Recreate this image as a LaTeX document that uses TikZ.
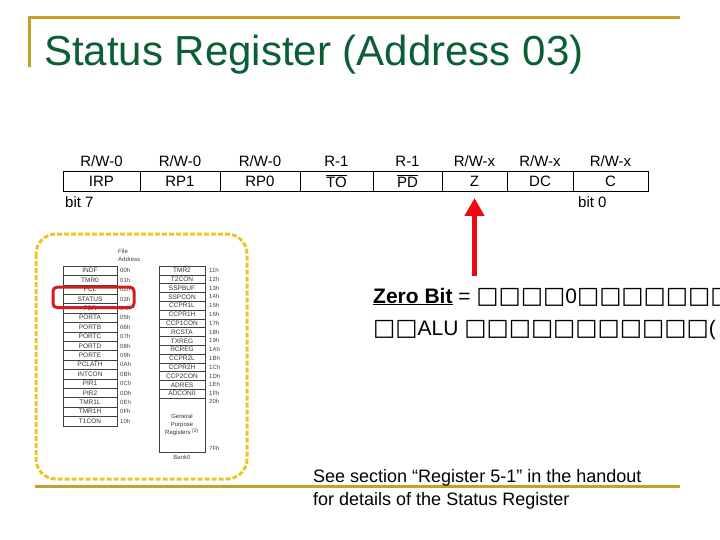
\documentclass[tikz,border=0pt]{standalone}
\usepackage{fontspec}
\setmainfont{Liberation Sans}
\newfontfamily\tofufont[Scale=1.12]{DejaVu Sans}
\usetikzlibrary{positioning,arrows.meta}

\definecolor{titlegreen}{RGB}{12,94,52}
\definecolor{rulegold}{RGB}{196,160,44}
\definecolor{framegold}{RGB}{236,196,40}
\definecolor{markred}{RGB}{210,30,30}
\definecolor{arrowred}{RGB}{238,10,20}

\begin{document}
\begin{tikzpicture}[
  x=1pt, y=-1pt,
  >=Latex,
  every node/.style={font=\fontsize{15}{18}\selectfont},
  regcell/.style={draw, line width=0.6pt, minimum height=20pt, inner sep=0pt, outer sep=0pt},
  rwlabel/.style={inner sep=0pt, text depth=0pt},
  zarrow/.style={-{Triangle[length=18pt,width=19pt]}, line width=5pt, arrowred},
  zerotext/.style={inner sep=0pt, font=\fontsize{21}{26}\selectfont},
  notetext/.style={inner sep=0pt, font=\fontsize{18}{22}\selectfont},
  titletext/.style={inner sep=0pt, text=titlegreen, font=\fontsize{42}{48}\selectfont},
  goldrule/.style={line width=3pt, rulegold},
  panelframe/.style={line width=3pt, framegold, dash pattern=on 5pt off 2pt, rounded corners=20pt},
  maprow/.style={draw=black!75, line width=0.5pt, inner sep=0pt, outer sep=0pt, text=black!80,
    font=\fontsize{6.5}{8}\selectfont},
  mapaddr/.style={inner sep=0pt, text=black!75, font=\fontsize{6}{8}\selectfont},
  statusmark/.style={line width=3pt, markred, rounded corners=4pt}
]
\useasboundingbox (0,0) rectangle (720,540);

% Title and rules
\draw[goldrule] (29,67) -- (29,18) -- (680,18);
\node[titletext, anchor=base west] (title) at (44,66) {Status Register (Address 03)};
\draw[goldrule] (35,486) -- (680,486);

% Register bits (bit 7 to bit 0)
\node[regcell, minimum width=77pt] (irp) at (101.5,181) {IRP};
\node[regcell, minimum width=80pt, right=0pt of irp] (rpone) {RP1};
\node[regcell, minimum width=80pt, right=0pt of rpone] (rpzero) {RP0};
\node[regcell, minimum width=73pt, right=0pt of rpzero] (tobit) {$\overline{\mbox{TO}}$};
\node[regcell, minimum width=69pt, right=0pt of tobit] (pdbit) {$\overline{\mbox{PD}}$};
\node[regcell, minimum width=65pt, right=0pt of pdbit] (zbit) {Z};
\node[regcell, minimum width=66pt, right=0pt of zbit] (dcbit) {DC};
\node[regcell, minimum width=75pt, right=0pt of dcbit] (cbit) {C};

% Access labels above
\node[rwlabel, above=4pt of irp] (irpacc) {R/W-0};
\node[rwlabel, above=4pt of rpone] (rponeacc) {R/W-0};
\node[rwlabel, above=4pt of rpzero] (rpzeroacc) {R/W-0};
\node[rwlabel, above=4pt of tobit] (toacc) {R-1};
\node[rwlabel, above=4pt of pdbit] (pdacc) {R-1};
\node[rwlabel, above=4pt of zbit] (zacc) {R/W-x};
\node[rwlabel, above=4pt of dcbit] (dcacc) {R/W-x};
\node[rwlabel, above=4pt of cbit] (cacc) {R/W-x};

\node[rwlabel, below=5pt of irp.south west, anchor=north west, xshift=2pt] (bitseven) {bit 7};
\node[rwlabel, below=5pt of cbit.south west, anchor=north west, xshift=5pt] (bitzero) {bit 0};

% Pointer to the Z bit
\coordinate[below=85pt of zbit.south] (arrowfoot);
\draw[zarrow] (arrowfoot) -- ([yshift=-7pt]zbit.south);

\node[zerotext, anchor=base west] (zeroline) at (373,303)
  {\underline{\textbf{Zero Bit}} = {\tofufont □□□□}0{\tofufont □□□□□□□}};
\node[zerotext, anchor=base west] (zeroalu) at ([yshift=-32pt]zeroline.base west)
  {{\tofufont □□}ALU {\tofufont □□□□□□□□□□□}(};

% Note at the bottom
\node[notetext, anchor=base west] (noteone) at (313,482) {See section “Register 5-1” in the handout};
\node[notetext, anchor=base west] (notetwo) at ([yshift=-23pt]noteone.base west) {for details of the Status Register};

% Register file map (bank 0)
\draw[panelframe] (36,234) rectangle (247,479);
\node[mapaddr, anchor=west, align=left] (fileaddr) at (118,255) {File\\Address};

\foreach \reg/\addr [count=\i] in {INDF/00h, TMR0/01h, PCL/02h, STATUS/03h, FSR/04h, PORTA/05h,
    PORTB/06h, PORTC/07h, PORTD/08h, PORTE/09h, PCLATH/0Ah, INTCON/0Bh, PIR1/0Ch, PIR2/0Dh,
    TMR1L/0Eh, TMR1H/0Fh, T1CON/10h} {
  \node[maprow, minimum width=54pt, minimum height=9.4pt] (left\i) at (90,{266+9.4*\i-4.7}) {\reg};
  \node[mapaddr, right=3pt of left\i] (leftaddr\i) {\addr};
}
\foreach \reg/\addr [count=\i] in {TMR2/11h, T2CON/12h, SSPBUF/13h, SSPCON/14h, CCPR1L/15h,
    CCPR1H/16h, CCP1CON/17h, RCSTA/18h, TXREG/19h, RCREG/1Ah, CCPR2L/1Bh, CCPR2H/1Ch,
    CCP2CON/1Dh, ADRES/1Eh, ADCON0/1Fh} {
  \node[maprow, minimum width=46pt, minimum height=8.8pt] (right\i) at (182,{266+8.8*\i-4.4}) {\reg};
  \node[mapaddr, right=4pt of right\i] (rightaddr\i) {\addr};
}
\node[maprow, minimum width=46pt, minimum height=54pt, below=0pt of right15, align=center,
  font=\fontsize{6}{8}\selectfont] (gpr) {General\\Purpose\\Registers \textsuperscript{(2)}};
\node[mapaddr, anchor=north west] (gprtop) at ([xshift=4pt,yshift=-1pt]gpr.north east) {20h};
\node[mapaddr, anchor=south west] (gprend) at ([xshift=4pt,yshift=1pt]gpr.south east) {7Fh};
\node[mapaddr, below=3pt of gpr] (bankzero) {Bank0};

\draw[statusmark] ([xshift=-10pt,yshift=-4pt]left4.south west) rectangle ([xshift=17pt,yshift=7pt]left4.north east);

\end{tikzpicture}
\end{document}
